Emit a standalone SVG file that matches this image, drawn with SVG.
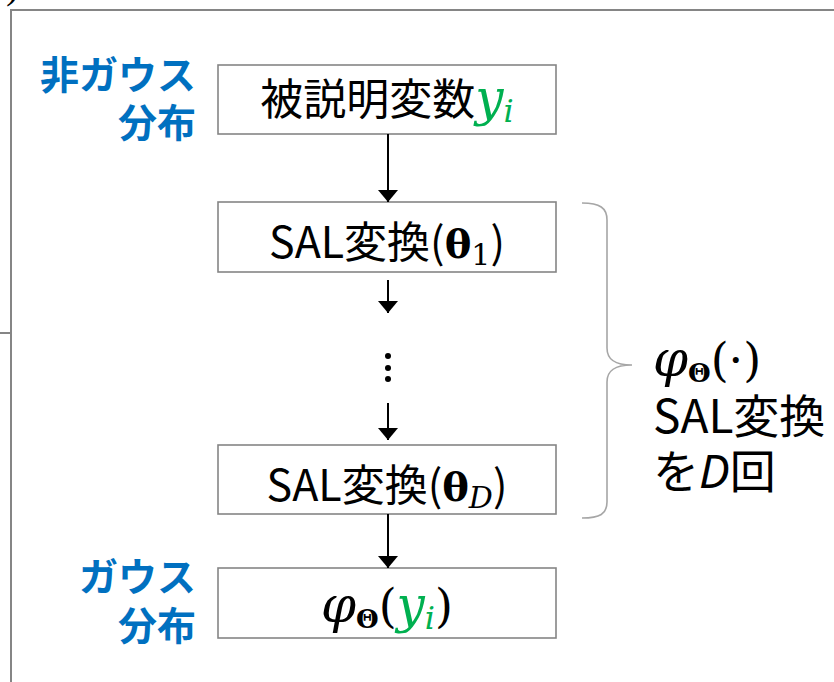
<svg xmlns="http://www.w3.org/2000/svg" width="834" height="682" viewBox="0 0 834 682">
<style>
.frame{fill:none;stroke:#858585;stroke-width:2}
.box{fill:#fff;stroke:#858585;stroke-width:1.6}
.edge{stroke:#000;stroke-width:2;fill:none}
.brace{fill:none;stroke:#a6a6a6;stroke-width:1.6}
.lbl{font-family:"Noto Sans CJK JP",sans-serif;font-weight:bold;font-size:39px;fill:#0070C0;text-anchor:end}
.t{font-family:"Noto Sans CJK JP",sans-serif;font-size:43px;fill:#000}
.r{font-size:46px}
.c{text-anchor:middle}
.m{font-family:"DejaVu Serif",serif;font-style:italic}
.s{font-family:"DejaVu Serif",serif;font-style:normal}
.b{font-family:"DejaVu Serif",serif;font-weight:bold;font-style:normal}
.g{fill:#00B050}
</style>
<defs>
<marker id="ah" markerUnits="userSpaceOnUse" markerWidth="12" markerHeight="20" refX="12" refY="10" orient="auto">
<path d="M0,0 L12,10 L0,20 Z" fill="#000"/>
</marker>
</defs>

<!-- surrounding panel frame -->
<path class="frame" d="M11,682 V10 H834"/>
<path class="frame" d="M0,333 H11"/>
<text x="6" y="-2" font-family="Liberation Serif,serif" font-size="40" fill="#000">)</text>

<!-- side labels -->
<g id="label-nongauss">
<text class="lbl" x="196" y="89">非ガウス</text>
<text class="lbl" x="196" y="137">分布</text>
</g>
<g id="label-gauss">
<text class="lbl" x="196" y="591">ガウス</text>
<text class="lbl" x="196" y="640">分布</text>
</g>

<!-- nodes -->
<g id="node-y">
<rect class="box" x="218" y="65" width="338" height="69"/>
<text class="t c" x="387" y="115">被説明変数<tspan class="m g" font-size="50">y</tspan><tspan class="m g" font-size="32" dy="7">i</tspan></text>
</g>
<g id="node-sal1">
<rect class="box" x="218" y="202" width="338" height="70"/>
<text class="t c" x="387" y="258">SAL変換(<tspan class="b" font-size="40">θ</tspan><tspan class="s" font-size="30" dy="7">1</tspan><tspan dy="-7">)</tspan></text>
</g>
<g id="node-ellipsis">
<circle cx="388" cy="356" r="3"/>
<circle cx="388" cy="368" r="3"/>
<circle cx="388" cy="379" r="3"/>
</g>
<g id="node-salD">
<rect class="box" x="218" y="445" width="338" height="69"/>
<text class="t c" x="387" y="501">SAL変換(<tspan class="b" font-size="40">θ</tspan><tspan class="m" font-size="30" dy="7">D</tspan><tspan dy="-7">)</tspan></text>
</g>
<g id="node-phi">
<rect class="box" x="218" y="568" width="338" height="70"/>
<text class="t c" x="387" y="622"><tspan class="m" font-size="50">φ</tspan><tspan class="b" font-size="26" dy="6">Θ</tspan><tspan class="s" font-size="46" dy="-6">(</tspan><tspan class="m g" font-size="50">y</tspan><tspan class="m g" font-size="32" dy="7">i</tspan><tspan class="s" font-size="46" dy="-7">)</tspan></text>
</g>

<!-- brace and its note -->
<g id="note-repeat">
<path class="brace" d="M582,203 C600,203 607,208 607,220 L607,348 C607,360 615,365 632,365 C615,365 607,370 607,382 L607,502 C607,514 600,518 582,518"/>
<text class="t r" x="653" y="376"><tspan class="m" font-size="50">φ</tspan><tspan class="b" font-size="26" dy="6">Θ</tspan><tspan class="s" font-size="46" dy="-6">(·)</tspan></text>
<text class="t r" x="653" y="433">SAL変換</text>
<text class="t r" x="653" y="488">を<tspan font-family="Noto Sans,sans-serif" font-style="italic">D</tspan>回</text>
</g>

<!-- connectors -->
<g id="edges">
<line class="edge" x1="388" y1="134" x2="388" y2="202" marker-end="url(#ah)"/>
<line class="edge" x1="388" y1="280" x2="388" y2="313" marker-end="url(#ah)"/>
<line class="edge" x1="388" y1="403" x2="388" y2="440" marker-end="url(#ah)"/>
<line class="edge" x1="388" y1="514" x2="388" y2="568" marker-end="url(#ah)"/>
</g>
</svg>
